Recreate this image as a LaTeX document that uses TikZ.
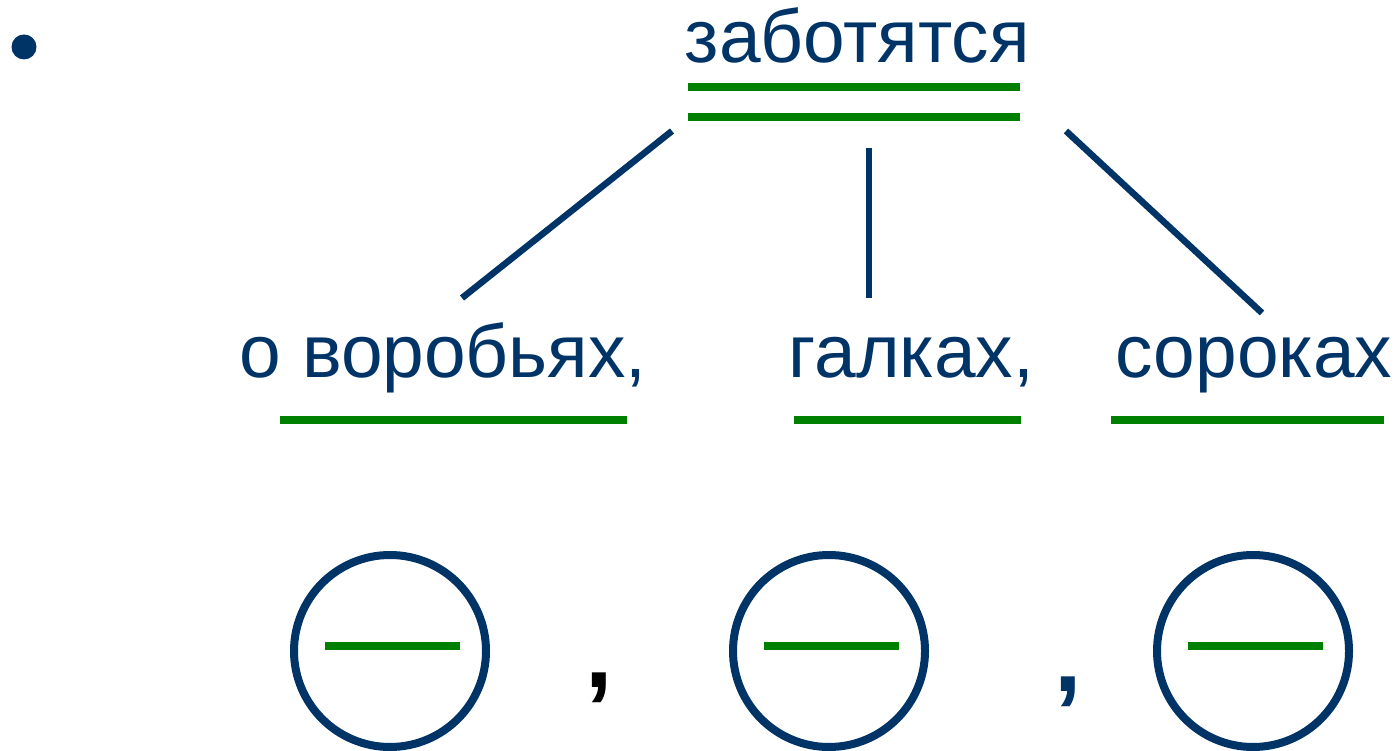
\documentclass[tikz,border=0pt]{standalone}
\usepackage{fontspec}
\setmainfont{Liberation Sans}
\usetikzlibrary{positioning}
\definecolor{navy}{RGB}{0,51,102}
\definecolor{leaf}{RGB}{0,128,0}

\begin{document}
\begin{tikzpicture}[x=0.1mm,y=-0.1mm]
   \tikzset{word/.style = {inner sep=0pt, anchor=base west, text=navy, font=\fontsize{21.3pt}{25pt}\selectfont}, }
   \tikzset{link/.style = {draw=navy, line width=0.65mm}, }
   \tikzset{uline/.style = {draw=leaf, line width=0.75mm}, }
   \tikzset{ring/.style = {circle, draw=navy, line width=0.8mm, minimum size=19.2mm, inner sep=0pt}, }
   \tikzset{sep/.style = {inner sep=0pt, anchor=base, font=\fontsize{28pt}{32pt}\selectfont\bfseries}, }
   \useasboundingbox (0,0) rectangle (1400,751);

   \fill[navy] (24,47) circle (1.25mm);

   % predicate and homogeneous words
   \node[word] (pred) at (684,63) {заботятся};
   \node[word] (w1) at (239,378) {о воробьях,};
   \node[word] (w2) at (788,378) {галках,};
   \node[word] (w3) at (1115,378) {сороках};

   % underlines
   \draw[uline] (688,87) -- (1020,87) (688,117) -- (1020,117);
   \draw[uline] (280,420) -- (627,420);
   \draw[uline] (794,420) -- (1021,420);
   \draw[uline] (1111,420) -- (1384,420);

   % links
   \coordinate (pl) at (672,131);
   \coordinate (pm) at (869,148);
   \coordinate (pr) at (1066,131);
   \coordinate (t1) at (462,298);
   \coordinate (t2) at (869,298);
   \coordinate (t3) at (1262,313);
   \path[link] (pl) edge (t1) (pm) edge (t2) (pr) edge (t3);

   % scheme
   \node[ring] (c1) at (390,651) {};
   \node[ring] (c2) at (829,651) {};
   \node[ring] (c3) at (1253,651) {};
   \foreach \c in {c1,c2,c3}
     \draw[uline] ([xshift=-6.5mm,yshift=0.5mm]\c.center) -- ([xshift=7mm,yshift=0.5mm]\c.center);
   \node[sep, text=black] (k1) at (599,687) {,};
   \node[sep, text=navy] (k2) at (1068,691) {,};
\end{tikzpicture}
\end{document}
